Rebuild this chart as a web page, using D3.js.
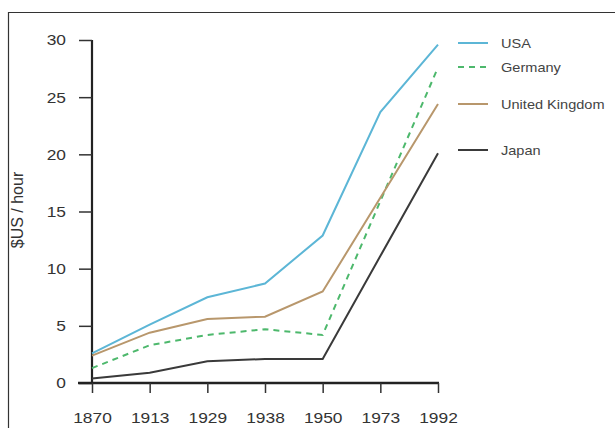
<!DOCTYPE html>
<html><head><meta charset="utf-8">
<script src="https://cdn.jsdelivr.net/npm/d3@7"></script>
<style>body{margin:0;background:#fff}svg{display:block}text{font-family:"Liberation Sans",Arial,sans-serif}</style>
</head><body>
<script>
const years = ["1870","1913","1929","1938","1950","1973","1992"];
const usa = [2.6, 5.1, 7.5, 8.7, 12.9, 23.7, 29.6];
const germany = [1.3, 3.3, 4.2, 4.7, 4.2, 15.9, 27.6];
const uk = [2.4, 4.4, 5.6, 5.8, 8.0, 16.2, 24.4];
const japan = [0.4, 0.9, 1.9, 2.1, 2.1, 11.1, 20.1];
const yTicks = [0, 5, 10, 15, 20, 25, 30];
const seriesNames = ["USA", "Germany", "United Kingdom", "Japan"];
const seriesColors = ["#5cb6d6", "#4db86c", "#b8976c", "#3a3a3a"];
const seriesDash = [null, "6,5", null, null];
const seriesValues = [usa, germany, uk, japan];

const W = 615, H = 428, SX = 1.12;
const svg = d3.select("body").append("svg").attr("width", W).attr("height", H);

// frame
svg.append("path").attr("d", `M8.5,${H+2} V12.5 H${W+2}`).attr("fill","none").attr("stroke","#333").attr("stroke-width",1.2);

const x = d3.scalePoint().domain(years).range([92, 438]);
const y = d3.scaleLinear().domain([0, 30]).range([383, 40]);

function stretch(sel){
  sel.each(function(){
    const t = d3.select(this);
    const xv = +t.attr("x") || 0;
    t.attr("x", xv / SX).attr("transform", `scale(${SX},1)`);
  });
}

// axes
const yAxis = svg.append("g").attr("transform","translate(92,0)")
  .call(d3.axisLeft(y).tickValues(yTicks).tickSize(13).tickPadding(13));
yAxis.select(".domain").attr("stroke","#222").attr("stroke-width",2.2).attr("d","M0,384V40");
yAxis.selectAll(".tick line").attr("stroke","#333").attr("stroke-width",1.5);
yAxis.selectAll("text").attr("font-size",15.5).attr("fill","#333").call(stretch);

const xAxis = svg.append("g").attr("transform","translate(0,383)")
  .call(d3.axisBottom(x).tickSize(10).tickPadding(19));
xAxis.select(".domain").attr("stroke","#222").attr("stroke-width",2.5).attr("d","M78,0H439");
xAxis.selectAll(".tick line").attr("stroke","#333").attr("stroke-width",1.5);
xAxis.selectAll("text").attr("font-size",15.5).attr("fill","#333").call(stretch);

// y label
svg.append("text").attr("transform","translate(23,210) rotate(-90)")
  .attr("text-anchor","middle").attr("font-size",16).attr("fill","#333").text("$US / hour");

// lines
const line = d3.line().x((d,i)=>x(years[i])).y(d=>y(d));
seriesValues.forEach((vals,k)=>{
  svg.append("path").datum(vals).attr("d", line).attr("fill","none")
    .attr("stroke", seriesColors[k]).attr("stroke-width", 2)
    .attr("stroke-dasharray", seriesDash[k]);
});

// legend
const legendY = [43, 67, 104, 150];
seriesNames.forEach((n,k)=>{
  svg.append("line").attr("x1",458).attr("x2",488).attr("y1",legendY[k]).attr("y2",legendY[k])
    .attr("stroke",seriesColors[k]).attr("stroke-width",2).attr("stroke-dasharray",seriesDash[k]);
  svg.append("text").attr("transform",`translate(501,${legendY[k]}) scale(${SX},1)`).attr("dy","0.35em")
    .attr("font-size",13).attr("fill","#444").text(n);
});
</script>
</body></html>
